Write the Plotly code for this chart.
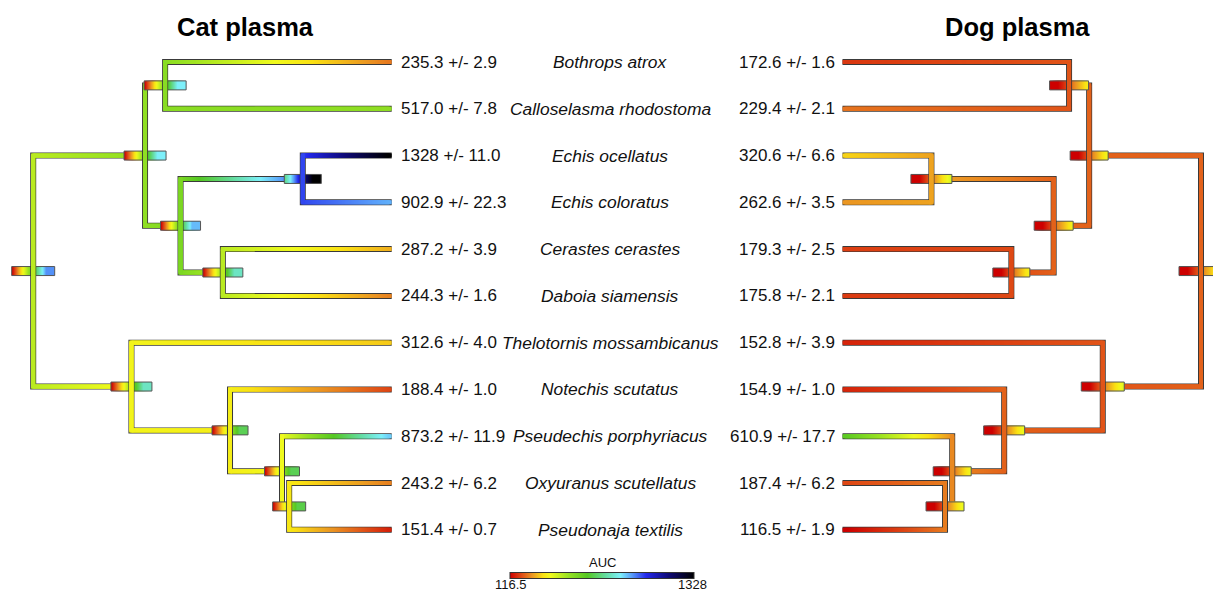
import numpy as np
import plotly.graph_objects as go

# ---------------- data ----------------
species = ["Bothrops atrox", "Calloselasma rhodostoma", "Echis ocellatus", "Echis coloratus",
           "Cerastes cerastes", "Daboia siamensis", "Thelotornis mossambicanus", "Notechis scutatus",
           "Pseudechis porphyriacus", "Oxyuranus scutellatus", "Pseudonaja textilis"]
cat_auc = [235.3, 517.0, 1328, 902.9, 287.2, 244.3, 312.6, 188.4, 873.2, 243.2, 151.4]
cat_err = [2.9, 7.8, 11.0, 22.3, 3.9, 1.6, 4.0, 1.0, 11.9, 6.2, 0.7]
dog_auc = [172.6, 229.4, 320.6, 262.6, 179.3, 175.8, 152.8, 154.9, 610.9, 187.4, 116.5]
dog_err = [1.6, 2.1, 6.6, 3.5, 2.5, 2.1, 3.9, 1.0, 17.7, 6.2, 1.9]

# tree topology (internal nodes; integers are tip indices) and node depths (root=0, tips=1)
node_order = ["root", "A", "B", "C", "D", "E", "F", "G", "H", "I"]
node_children = [["A", "F"], ["B", "C"], [0, 1], ["D", "E"], [2, 3], [4, 5],
                 [6, "G"], [7, "H"], [8, "I"], [9, 10]]
node_depth = [0.0, 0.312, 0.368, 0.411, 0.752, 0.529, 0.274, 0.549, 0.694, 0.714]

# reconstructed ancestral AUC and its confidence interval at each internal node
cat_node_auc = [456, 516, 528, 553, 989, 456, 371, 359, 383, 347]
cat_node_lo = [116.5, 116.5, 116.5, 116.5, 722, 116.5, 116.5, 116.5, 116.5, 116.5]
cat_node_hi = [928, 843, 843, 892, 1328, 783, 783, 674, 674, 662]
dog_node_auc = [213, 213, 201, 213, 274, 189, 201, 213, 250, 238]
dog_node_lo = [116.5] * 10
dog_node_hi = [407, 383, 359, 371, 419, 371, 407, 395, 383, 395]

AUC_MIN, AUC_MAX = 116.5, 1328
scale_ticks = ["116.5", "1328"]

# ---------------- style ----------------
PX_X = 358.5   # pixels per unit of tree depth
PX_Y = 46.78   # pixels per tip
W, H = 1213, 594
cat_box_w = [43, 42, 42, 40, 37, 40, 41, 36, 35, 33]
dog_box_w = [44, 38, 39, 39, 41, 37, 43, 41, 38, 38]
BOX_H = 9
OUTLINE = "#3a3a3a"
FONT = "Liberation Sans, Arial, Helvetica, sans-serif"
colorscale = [[0.00, "rgb(205,0,0)"], [0.07, "rgb(225,85,25)"], [0.12, "rgb(235,150,35)"],
              [0.18, "rgb(250,225,20)"], [0.22, "rgb(240,250,30)"], [0.32, "rgb(150,225,35)"],
              [0.42, "rgb(85,200,35)"], [0.52, "rgb(100,220,160)"], [0.60, "rgb(125,240,250)"],
              [0.66, "rgb(90,160,250)"], [0.74, "rgb(35,40,235)"], [0.86, "rgb(15,10,120)"],
              [1.00, "rgb(0,0,0)"]]

children = dict(zip(node_order, node_children))
depths = dict(zip(node_order, node_depth))


def ypos(n):
    if isinstance(n, int):
        return float(n)
    return float(np.mean([ypos(c) for c in children[n]]))


def dep(n):
    return 1.0 if isinstance(n, int) else depths[n]


fig = go.Figure()
state = {"scale_done": False}


def marker_trace(xs, ys, cs, size, xa):
    show = not state["scale_done"]
    state["scale_done"] = True
    mk = dict(symbol="square", size=size, color=cs, colorscale=colorscale, cmin=AUC_MIN, cmax=AUC_MAX,
              line=dict(width=0), showscale=show)
    if show:
        mk["colorbar"] = dict(orientation="h", thickness=6, thicknessmode="pixels", len=184, lenmode="pixels",
                              x=602 / W, xanchor="center", y=1 - 575.5 / H, yanchor="middle",
                              outlinewidth=1, outlinecolor="#333", showticklabels=False, ticks="",
                              xpad=0, ypad=0)
    return go.Scatter(x=xs, y=ys, mode="markers", marker=mk, xaxis=xa, yaxis="y",
                      hoverinfo="skip", showlegend=False)


def add_tree(xa, tip_vals, nvals, nlo, nhi, boxw, reverse):
    vals = dict(zip(node_order, nvals))
    los = dict(zip(node_order, nlo))
    his = dict(zip(node_order, nhi))
    bws = dict(zip(node_order, boxw))

    def val(n):
        return tip_vals[n] if isinstance(n, int) else vals[n]

    def add_box(n):
        d, y = depths[n], ypos(n)
        hw = bws[n] / 2 / PX_X
        inset = BOX_H / 2 / PX_X
        npts = int(bws[n]) - BOX_H + 2
        xs = np.linspace(d - hw + inset, d + hw - inset, npts)
        cs = np.linspace(los[n], his[n], npts)
        if reverse:
            cs = cs[::-1]
        fig.add_trace(marker_trace(xs, np.full(npts, y), cs, BOX_H, xa))
        hh = BOX_H / 2 / PX_Y
        fig.add_trace(go.Scatter(x=[d - hw, d + hw, d + hw, d - hw, d - hw],
                                 y=[y - hh, y - hh, y + hh, y + hh, y - hh], mode="lines",
                                 line=dict(color="#555", width=1), xaxis=xa, yaxis="y",
                                 hoverinfo="skip", showlegend=False))

    def add_fork(n):
        d = depths[n]
        c1, c2 = children[n]
        y1, y2 = ypos(c1), ypos(c2)
        fig.add_trace(go.Scatter(x=[dep(c1), d, d, dep(c2)], y=[y1, y1, y2, y2], mode="lines",
                                 line=dict(color=OUTLINE, width=6), xaxis=xa, yaxis="y",
                                 hoverinfo="skip", showlegend=False))
        xs, ys, cs = [], [], []
        for c in (c1, c2):
            end = dep(c) - (2 / PX_X if isinstance(c, int) else 0)
            npts = max(2, int((end - d) * PX_X) + 1)
            xs.append(np.linspace(d, end, npts))
            ys.append(np.full(npts, ypos(c)))
            cs.append(np.linspace(val(n), val(c), npts))
        nv = max(2, int((y2 - y1) * PX_Y) + 1)
        xs.append(np.full(nv, d))
        ys.append(np.linspace(y1, y2, nv))
        cs.append(np.full(nv, val(n)))
        fig.add_trace(marker_trace(np.concatenate(xs), np.concatenate(ys), np.concatenate(cs), 4, xa))

    def visit(n):
        add_box(n)
        add_fork(n)
        for c in children[n]:
            if not isinstance(c, int):
                visit(c)

    visit("root")


add_tree("x", cat_auc, cat_node_auc, cat_node_lo, cat_node_hi, cat_box_w, False)
add_tree("x2", dog_auc, dog_node_auc, dog_node_lo, dog_node_hi, dog_box_w, True)


def fmt(v):
    return f"{v:.0f}" if v >= 1000 else f"{v:.1f}"


ann = []
lab_font = dict(size=17, family=FONT, color="#111")
for i, name in enumerate(species):
    ann.append(dict(x=1.0, y=i, xref="x", yref="y", xanchor="left", yanchor="middle", xshift=7,
                    showarrow=False, text=f"{fmt(cat_auc[i])} +/- {cat_err[i]:.1f}", font=lab_font))
    ann.append(dict(x=1.0, y=i, xref="x2", yref="y", xanchor="right", yanchor="middle", xshift=-6,
                    showarrow=False, text=f"{fmt(dog_auc[i])} +/- {dog_err[i]:.1f}", font=lab_font))
    ann.append(dict(x=610 / W, y=i, xref="paper", yref="y", xanchor="center", yanchor="middle",
                    showarrow=False, text=f"<i>{name}</i>", font=dict(size=17.4, family=FONT, color="#111")))
for txt, cx in (("<b>Cat plasma</b>", 245.5), ("<b>Dog plasma</b>", 1017)):
    ann.append(dict(x=cx / W, y=1 - 27 / H, xref="paper", yref="paper", xanchor="center", yanchor="middle",
                    showarrow=False, text=txt, font=dict(size=25.5, family=FONT, color="#000")))
# colour-scale labels
ann.append(dict(x=602 / W, y=1 - 562 / H, xref="paper", yref="paper", xanchor="center", yanchor="middle",
                showarrow=False, text="AUC", font=dict(size=13, family=FONT, color="#111")))
for txt, cx in zip(scale_ticks, (511, 692)):
    ann.append(dict(x=cx / W, y=1 - 584 / H, xref="paper", yref="paper", xanchor="center", yanchor="middle",
                    showarrow=False, text=txt, font=dict(size=13, family=FONT, color="#111")))

fig.update_layout(
    width=W, height=H, autosize=False, margin=dict(l=0, r=0, t=0, b=0, pad=0),
    paper_bgcolor="white", plot_bgcolor="white",
    xaxis=dict(domain=[0, 0.4], range=[-33.2 / PX_X, (0.4 * W - 33.2) / PX_X], visible=False),
    xaxis2=dict(domain=[0.6, 1], range=[(1201 - 0.6 * W) / PX_X, (1201 - W) / PX_X], visible=False),
    yaxis=dict(domain=[0, 1], range=[(H - 62) / PX_Y, -62 / PX_Y], visible=False),
    annotations=ann, showlegend=False,
)

fig.write_html("out.html", config={"displayModeBar": False},
               post_script="document.body.style.margin='0';")
